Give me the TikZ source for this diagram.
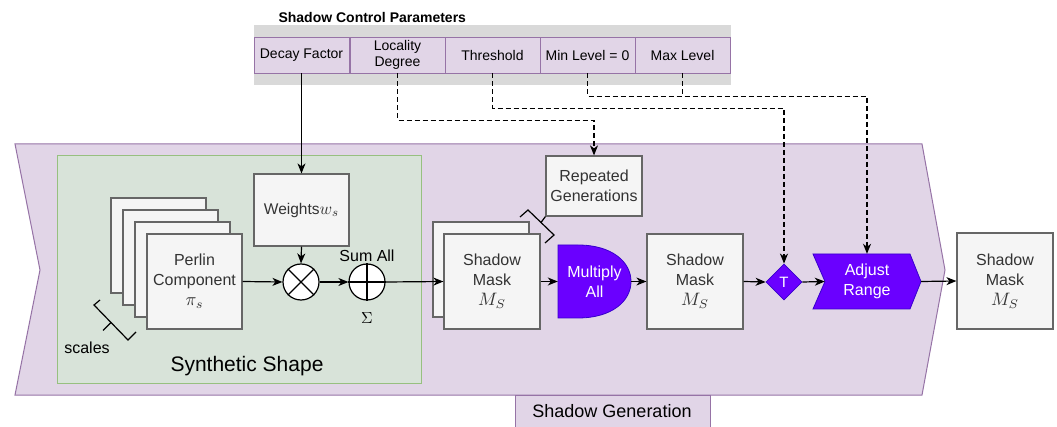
\documentclass[tikz,border=0pt]{standalone}
\usepackage{graphicx}
\usepackage{fontspec}
\setmainfont{Liberation Sans}
\usetikzlibrary{arrows.meta,shapes.geometric}
\pgfdeclarelayer{back}
\pgfsetlayers{back,main}
\newcommand{\setfs}[2]{\fontsize{#1}{#2}\selectfont}
% math set at 10pt and enlarged, so the glyphs follow the text size
\newcommand{\bigmath}[2][1.8]{{\fontsize{10}{12}\selectfont\scalebox{#1}{$#2$}}}
\definecolor{lav}{HTML}{E1D5E7}
\definecolor{lavline}{HTML}{9673A6}
\definecolor{grn}{HTML}{D8E3D9}
\definecolor{grnline}{HTML}{97C080}
\definecolor{boxfill}{HTML}{F5F5F5}
\definecolor{boxline}{HTML}{666666}
\definecolor{boxtext}{HTML}{333333}
\definecolor{violet}{HTML}{6A00FF}
\definecolor{violetline}{HTML}{3700CC}
\definecolor{band}{HTML}{D9D9D9}
\begin{document}
\begin{tikzpicture}[x=1pt,y=-1pt,
  box/.style={draw=boxline, fill=boxfill, line width=1.2pt, inner sep=0pt,
    align=center, text=boxtext, font=\setfs{16}{20}},
  cell/.style={draw=lavline, fill=lav, line width=0.8pt, minimum width=95pt,
    minimum height=36pt, inner sep=0pt, align=center, font=\setfs{14}{16.5}},
  flow/.style={line width=1.2pt, -{Stealth[length=10pt,width=8pt,inset=3pt]}},
  ctrl/.style={flow, dash pattern=on 5pt off 3pt},
  hot/.style={fill=violet, draw=violetline, line width=0.8pt},
  op/.style={circle, draw=black, fill=white, line width=1.2pt,
    minimum size=36pt, inner sep=0pt},
  hottext/.style={text=white, align=center, font=\setfs{16}{20}, inner sep=0pt}
]
\useasboundingbox (0,0) rectangle (1057,427);

% containers
\begin{pgfonlayer}{back}
  \draw[draw=lavline, fill=lav, line width=1pt]
    (15,144) -- (922,144) -- (945,270) -- (922,395) -- (15,395) -- (40,270) -- cycle;
  \draw[draw=lavline, fill=lav, line width=1pt] (515,395) rectangle (710,432);
  \draw[draw=grnline, fill=grn, line width=1pt] (57,156) rectangle (421,383);
\end{pgfonlayer}
\node[font=\setfs{18}{20}] (sg) at (612,411) {Shadow Generation};
\node[font=\setfs{21}{24}] (ss) at (247,366) {Synthetic Shape};

% parameter table
\fill[band] (254,25) rectangle (731,85);
\node[anchor=west, font=\bfseries\setfs{14}{16}] (title) at (275,18) {Shadow Control Parameters};
\node[cell] (c1) at (301.5,55) {Decay Factor};
\node[cell] (c2) at (397.5,55) {Locality\\Degree};
\node[cell] (c3) at (492.5,55) {Threshold};
\node[cell] (c4) at (587.5,55) {Min Level = 0};
\node[cell] (c5) at (682.5,55) {Max Level};

% perlin components
\node[box, minimum width=95pt, minimum height=95pt] (pc1) at (158.5,245.5) {};
\node[box, minimum width=95pt, minimum height=95pt] (pc2) at (170.5,257.5) {};
\node[box, minimum width=95pt, minimum height=95pt] (pc3) at (182.5,269.5) {};
\node[box, minimum width=95pt, minimum height=95pt] (pc) at (194.5,281.5) {Perlin\\Component\\\bigmath{\pi_s}};
\draw[line width=1.2pt] (100,300) -- (94,305) -- (128,340) -- (136,332);
\draw[line width=1.2pt] (111,322.5) -- (103,330.5);
\node[font=\setfs{16}{18}] (sc) at (87,348) {scales};

% weighting and sum
\node[box, font=\setfs{15.5}{18}, minimum width=95pt, minimum height=72pt] (w) at (301.5,210) {Weights\bigmath[1.7]{w_s}};
\node[op] (mul) at (301,282) {};
\draw[line width=1.2pt] (mul.north west) -- (mul.south east) (mul.north east) -- (mul.south west);
\node[op] (sum) at (367,282) {};
\draw[line width=1.2pt] (sum.north) -- (sum.south) (sum.west) -- (sum.east);
\node[font=\setfs{16}{18}] (suml) at (367,256) {Sum All};
\node (sigma) at (367,318) {\bigmath[1.6]{\Sigma}};

% shadow masks
\node[box, minimum width=96pt, minimum height=95pt] (smb) at (481,269.5) {};
\node[box, minimum width=96pt, minimum height=95pt] (sm1) at (492,281.5) {Shadow\\Mask\\\bigmath{M_S}};
\node[box, minimum width=96pt, minimum height=60pt] (rg) at (594,186) {Repeated\\Generations};
\draw[line width=1.2pt] (520,217) -- (528,210) -- (554,235) -- (545,243);
\coordinate (rgb) at (541,222.5);
\draw[line width=1.2pt] (rgb) -- (rg.south west);

\node[hottext, minimum width=73pt, minimum height=73pt] (ma) at (594.5,281.5) {Multiply\\All};
\node[box, minimum width=96pt, minimum height=95pt] (sm2) at (695,281.5) {Shadow\\Mask\\\bigmath{M_S}};
\node[diamond, hot, minimum width=36pt, minimum height=36pt, inner sep=0pt,
  text=white, font=\setfs{15}{18}] (tt) at (784,282) {T};
\node[hottext, minimum width=108pt, minimum height=55pt] (ar) at (867,281.5) {Adjust\\Range};
\node[box, minimum width=96pt, minimum height=96pt] (sm3) at (1005,281) {Shadow\\Mask\\\bigmath{M_S}};

\begin{pgfonlayer}{back}
  \draw[hot] (558,245) -- (578,245) .. controls (612,245) and (631,262) .. (631,281.5)
    .. controls (631,301) and (612,318) .. (578,318) -- (558,318) -- cycle;
  \draw[hot] (813,254) -- (910,254) -- (921,281.5) -- (910,309) -- (813,309) -- (825,281.5) -- cycle;
\end{pgfonlayer}

% flow connectors
\draw[flow] (c1.south) -- (w.north);
\draw[flow] (pc.east) -- (mul.west);
\draw[flow] (w.south) -- (mul.north);
\draw[flow] (mul.east) -- (sum.west);
\draw[flow] (sum.east) -- (sm1.west);
\draw[flow] (sm1.east) -- (ma.west);
\draw[flow] (ma.east) -- (sm2.west);
\draw[flow] (sm2.east) -- (tt.west);
\draw[flow] (tt.east) -- ([xshift=12pt]ar.west);
\draw[flow] (ar.east) -- (sm3.west);

% control parameter links
\draw[ctrl] (c2.south) -- ++(0,47) -| (rg.north);
\draw[ctrl] (c3.south) -- ++(0,35) -| (tt.north);
\draw[ctrl] (c4.south) -- ++(0,23) -| (ar.north);
\draw[ctrl, -] (c5.south) -- ++(0,23);
\end{tikzpicture}
\end{document}
